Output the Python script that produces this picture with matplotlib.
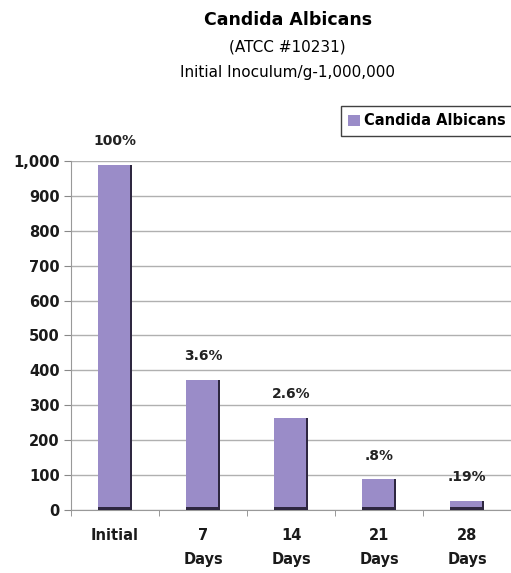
"""
Candida Albicans reduction chart
"""
import matplotlib.pyplot as plt
import numpy as np

categories = ['Initial', '7\nDays', '14\nDays', '21\nDays', '28\nDays']
counts = [990, 372, 264, 88, 27]
pct_labels = ['100%', '3.6%', '2.6%', '.8%', '.19%']
y_ticks = [0, 100, 200, 300, 400, 500, 600, 700, 800, 900, 1000]

plt.rcParams['font.family'] = ['DejaVu Sans']

fig = plt.figure(figsize=(5.11, 5.73), dpi=100)
ax = fig.add_axes([0.139, 0.110, 0.861, 0.609])

x = np.arange(len(categories))
width = 0.38
bar_color = '#9a8cc8'
edge_dark = '#2e2740'

# main bars plus a dark sliver on the right/bottom for the 3D look
ax.bar(x, counts, width, color=bar_color, zorder=3, label='Candida Albicans')
ax.bar(x + width / 2 - 0.012, counts, 0.024, color=edge_dark, zorder=4)
ax.bar(x, [min(c, 8) for c in counts], width, color=edge_dark, zorder=4)

for xi, c, lab in zip(x, counts, pct_labels):
    ax.annotate(lab, (xi, c), xytext=(0, 12), textcoords='offset points',
                ha='center', va='bottom', fontsize=10, fontweight='bold', color='#222222')

ax.set_xlim(-0.5, len(categories) - 0.5)
ax.set_ylim(0, 1000)
ax.set_yticks(y_ticks)
ax.set_yticklabels([f'{v:,}' for v in y_ticks], fontsize=10.5, fontweight='bold', color='#1a1a1a')
ax.set_xticks(x)
ax.set_xticklabels(categories, fontsize=10.5, fontweight='bold', linespacing=1.75, va='top',
                   color='#1a1a1a')
ax.set_xticks(np.arange(len(categories) + 1) - 0.5, minor=True)
ax.tick_params(axis='x', which='major', length=0, pad=13)
ax.tick_params(axis='x', which='minor', length=4, color='#888888', direction='out')
ax.tick_params(axis='y', length=5, color='#888888', pad=3)

ax.yaxis.grid(True, color='#b0b0b0', linewidth=1.0, zorder=0)
ax.set_axisbelow(True)
for side in ['top', 'right']:
    ax.spines[side].set_visible(False)
ax.spines['left'].set_color('#999999')
ax.spines['bottom'].set_color('#999999')

fig.text(0.563, 0.965, 'Candida Albicans', ha='center', va='center', fontsize=12.5, fontweight='bold')
fig.text(0.563, 0.918, '(ATCC #10231)', ha='center', va='center', fontsize=11)
fig.text(0.563, 0.873, 'Initial Inoculum/g-1,000,000', ha='center', va='center', fontsize=11)

handles, labels = ax.get_legend_handles_labels()
leg = fig.legend(handles[:1], labels[:1], loc='upper right', bbox_to_anchor=(1.004, 0.815),
                 prop={'weight': 'bold', 'size': 10.5}, frameon=True, fancybox=False,
                 handlelength=0.8, handleheight=0.8, handletextpad=0.3, borderpad=0.5,
                 borderaxespad=0)
leg.get_frame().set_edgecolor('#111111')
leg.get_frame().set_linewidth(1.0)

plt.savefig('out.png', dpi=100)
plt.close(fig)
